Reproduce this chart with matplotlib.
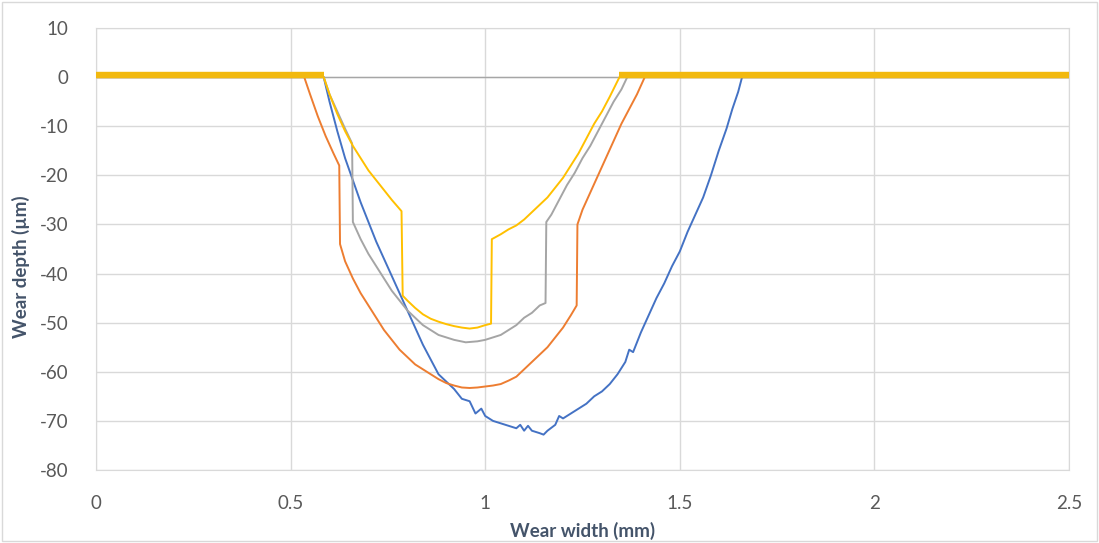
import matplotlib.pyplot as plt
from matplotlib.patches import Rectangle

plt.rcParams['font.family'] = ['Lato', 'DejaVu Sans']
plt.rcParams['axes.unicode_minus'] = False

# wear profiles: x in mm, y in um
blue_x = [0, 0.585, 0.60, 0.62, 0.64, 0.66, 0.68, 0.70, 0.72, 0.74, 0.76, 0.78, 0.80,
          0.82, 0.84, 0.86, 0.88, 0.90, 0.92, 0.94, 0.96, 0.975, 0.99, 1.00, 1.02, 1.04,
          1.06, 1.08, 1.09, 1.10, 1.11, 1.12, 1.14, 1.15, 1.16, 1.18, 1.19, 1.20, 1.22,
          1.24, 1.26, 1.28, 1.30, 1.32, 1.34, 1.36, 1.37, 1.38, 1.40, 1.42, 1.44, 1.46,
          1.48, 1.50, 1.52, 1.54, 1.56, 1.58, 1.60, 1.62, 1.635, 1.65, 1.66, 2.5]
blue_y = [0, 0, -5, -11, -16.5, -21, -25.5, -29.5, -33.5, -37, -40.5, -44, -47.5,
          -51, -54.5, -57.5, -60.5, -62, -63.5, -65.5, -66, -68.5, -67.5, -69, -70, -70.5,
          -71, -71.5, -70.8, -72, -71, -72, -72.5, -72.8, -72, -70.8, -69, -69.5, -68.5,
          -67.5, -66.5, -65, -64, -62.5, -60.5, -58, -55.5, -56, -52, -48.5, -45, -42,
          -38.5, -35.5, -31.5, -28, -24.5, -20, -15, -10.5, -6.5, -3, 0, 0]

orange_x = [0, 0.535, 0.55, 0.57, 0.59, 0.61, 0.625, 0.627, 0.64, 0.66, 0.68, 0.70, 0.72,
            0.74, 0.76, 0.78, 0.80, 0.82, 0.84, 0.86, 0.88, 0.90, 0.92, 0.94, 0.96, 0.98,
            1.00, 1.02, 1.04, 1.06, 1.08, 1.10, 1.12, 1.14, 1.16, 1.18, 1.20, 1.22, 1.235,
            1.237, 1.25, 1.27, 1.29, 1.31, 1.33, 1.35, 1.37, 1.39, 1.41, 2.5]
orange_y = [0, 0, -3.5, -8, -12, -15.5, -18, -34, -37.5, -41, -44, -46.5, -49,
            -51.5, -53.5, -55.5, -57, -58.5, -59.5, -60.5, -61.5, -62.3, -62.8, -63.2, -63.3, -63.2,
            -63, -62.8, -62.5, -61.8, -61, -59.5, -58, -56.5, -55, -53, -51, -48.5, -46.5,
            -30, -27, -23.5, -20, -16.5, -13, -9.5, -6.5, -3.5, 0, 0]

gray_x = [0, 0.585, 0.60, 0.62, 0.64, 0.658, 0.660, 0.68, 0.70, 0.72, 0.74, 0.76, 0.78,
          0.80, 0.82, 0.84, 0.86, 0.88, 0.90, 0.92, 0.95, 0.98, 1.00, 1.02, 1.04, 1.06,
          1.08, 1.10, 1.12, 1.14, 1.155, 1.157, 1.17, 1.19, 1.21, 1.23, 1.25, 1.27, 1.29,
          1.31, 1.33, 1.35, 1.365, 2.5]
gray_y = [0, 0, -3.5, -7, -10.5, -13.5, -29.5, -33, -36, -38.5, -41, -43.5, -45.5,
          -47.5, -49, -50.5, -51.5, -52.5, -53, -53.5, -54, -53.8, -53.5, -53, -52.5, -51.5,
          -50.5, -49, -48, -46.5, -46, -29.5, -28, -25, -22, -19.5, -16.5, -14, -11,
          -8, -5, -2.5, 0, 0]

yellow_x = [0, 0.585, 0.60, 0.62, 0.64, 0.66, 0.68, 0.70, 0.72, 0.74, 0.76, 0.785, 0.788,
            0.80, 0.82, 0.84, 0.86, 0.88, 0.90, 0.92, 0.94, 0.96, 0.98, 1.00, 1.015, 1.017,
            1.04, 1.06, 1.08, 1.10, 1.12, 1.14, 1.16, 1.18, 1.20, 1.22, 1.24, 1.26, 1.28,
            1.30, 1.32, 1.345, 2.5]
yellow_y = [0, 0, -3.5, -7.5, -11, -14, -16.5, -19, -21, -23, -25, -27.3, -44.5,
            -45.5, -47, -48.3, -49.2, -49.8, -50.3, -50.7, -51, -51.2, -51, -50.5, -50.2, -33,
            -32, -31, -30.2, -29, -27.5, -26, -24.5, -22.5, -20.5, -18, -15.5, -12.5, -9.5,
            -7, -4, 0, 0]

fig = plt.figure(figsize=(10.99, 5.43), dpi=100)
ax = fig.add_axes([96 / 1099, 1 - 470 / 543, 973 / 1099, 442 / 543])

ax.axhline(0, color='#A6A6A6', lw=1, zorder=1)
ax.plot(blue_x, blue_y, color='#4472C4', lw=1.4, zorder=2)
ax.plot(orange_x, orange_y, color='#ED7D31', lw=1.4, zorder=3)
ax.plot(gray_x, gray_y, color='#A5A5A5', lw=1.4, zorder=4)
ax.plot(yellow_x, yellow_y, color='#FFC000', lw=1.4, zorder=5)
# flat unworn surface drawn heavy
ax.plot(yellow_x[:2], [v + 0.4 for v in yellow_y[:2]], color='#F2B90F', lw=4.6,
        solid_capstyle='butt', zorder=6)
ax.plot(yellow_x[-2:], [v + 0.4 for v in yellow_y[-2:]], color='#F2B90F', lw=4.6,
        solid_capstyle='butt', zorder=6)

ax.set_xlim(0, 2.5)
ax.set_ylim(-80, 10)
ax.set_xticks([0, 0.5, 1, 1.5, 2, 2.5])
ax.set_xticklabels(['0', '0.5', '1', '1.5', '2', '2.5'])
ax.set_yticks(range(-80, 11, 10))
ax.grid(True, color='#D9D9D9', lw=1)
ax.set_axisbelow(True)
for s in ax.spines.values():
    s.set_color('#D9D9D9')
ax.tick_params(length=0, labelsize=13.5, labelcolor='#595959')
ax.tick_params(axis='y', pad=20)
ax.tick_params(axis='x', pad=18)

ax.set_xlabel('Wear width (mm)', fontsize=13.5, fontweight='bold', color='#44546A')
ax.set_ylabel('Wear depth (µm)', fontsize=13.5, fontweight='bold', color='#44546A')
ax.xaxis.set_label_coords(0.5, -0.118)
ax.yaxis.set_label_coords(-0.068, 0.46)

fig.patches.append(Rectangle((0.002, 0.004), 0.996, 0.992, transform=fig.transFigure,
                             fill=False, edgecolor='#D9D9D9', lw=1))

fig.savefig('out.png', dpi=100)
